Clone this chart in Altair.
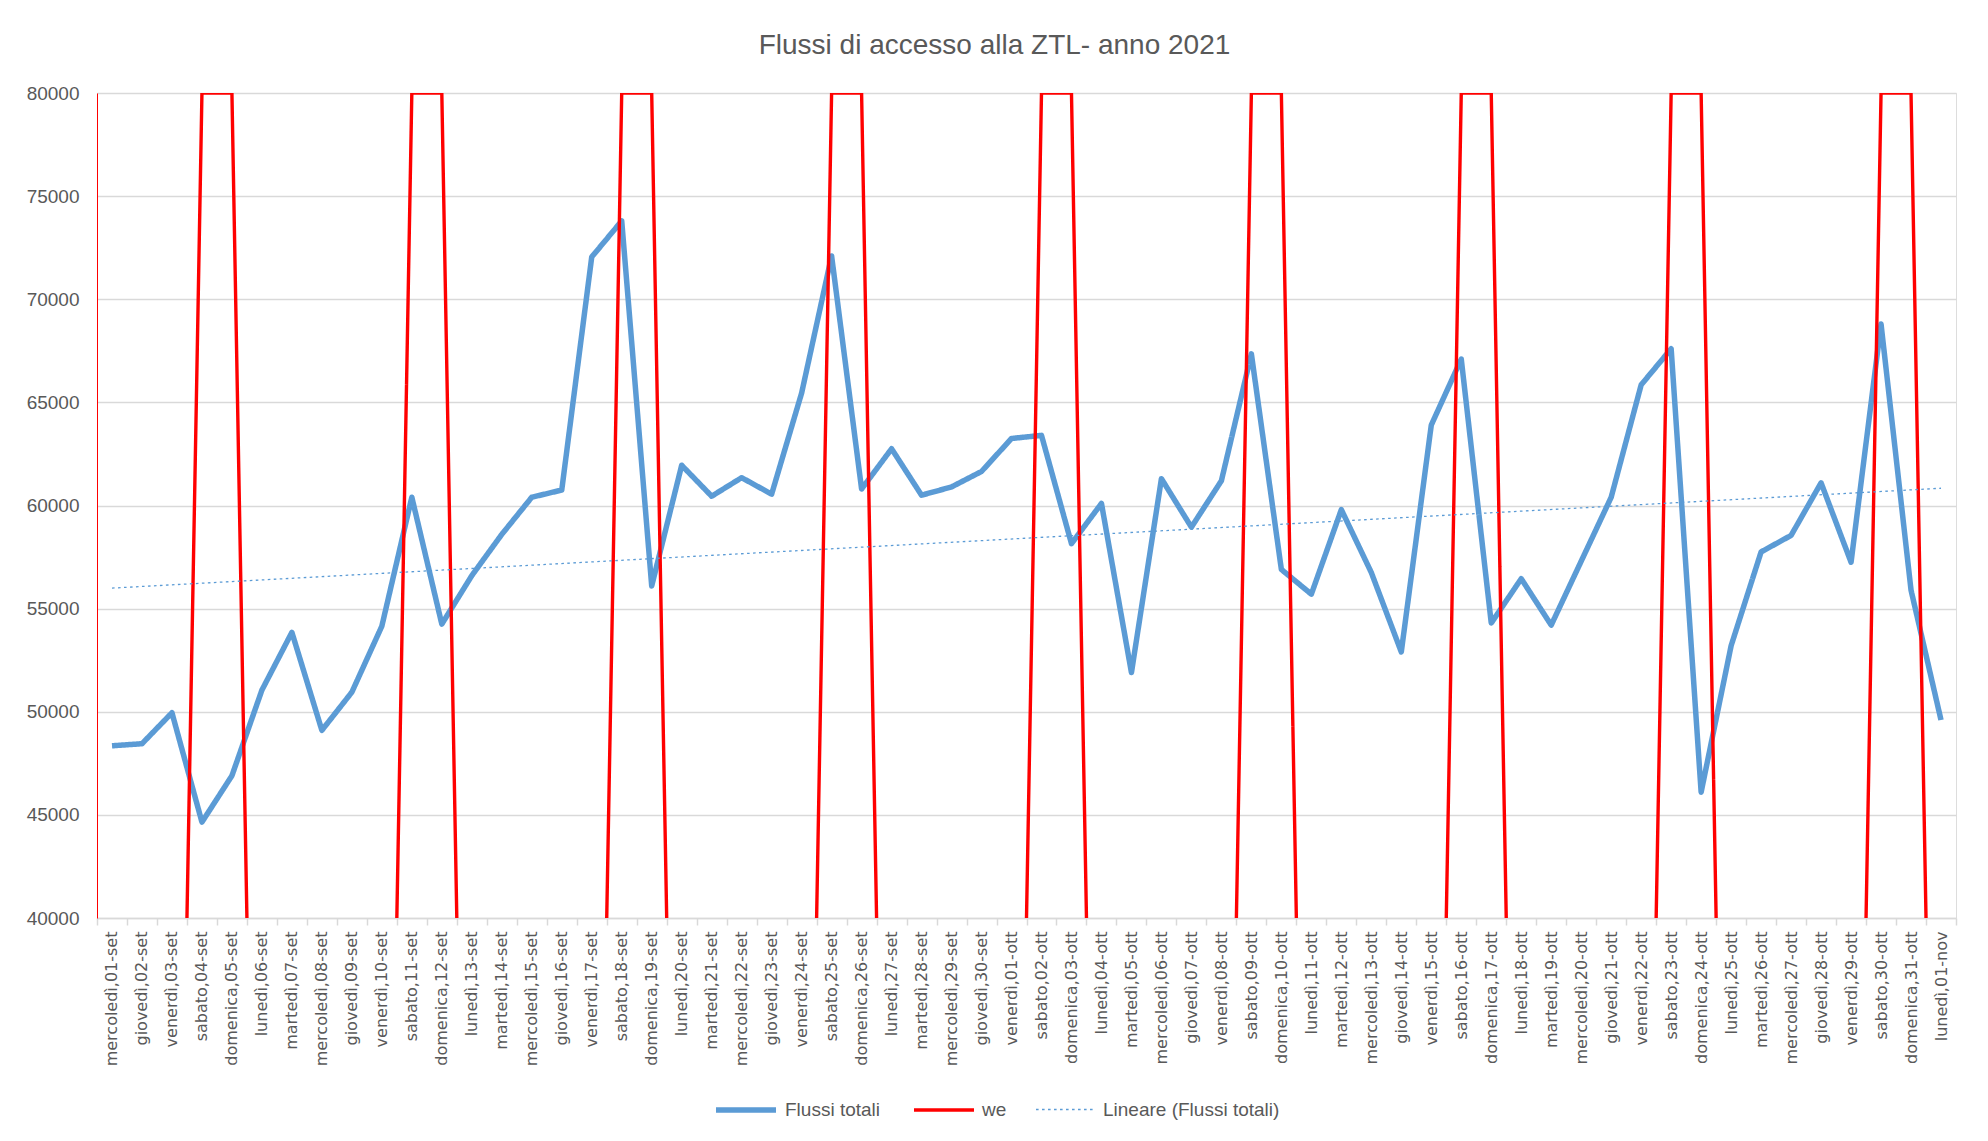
import altair as alt
import pandas as pd

etichette = [
    "mercoledì,01-set", "giovedì,02-set", "venerdì,03-set", "sabato,04-set", "domenica,05-set",
    "lunedì,06-set", "martedì,07-set", "mercoledì,08-set", "giovedì,09-set", "venerdì,10-set",
    "sabato,11-set", "domenica,12-set", "lunedì,13-set", "martedì,14-set", "mercoledì,15-set",
    "giovedì,16-set", "venerdì,17-set", "sabato,18-set", "domenica,19-set", "lunedì,20-set",
    "martedì,21-set", "mercoledì,22-set", "giovedì,23-set", "venerdì,24-set", "sabato,25-set",
    "domenica,26-set", "lunedì,27-set", "martedì,28-set", "mercoledì,29-set", "giovedì,30-set",
    "venerdì,01-ott", "sabato,02-ott", "domenica,03-ott", "lunedì,04-ott", "martedì,05-ott",
    "mercoledì,06-ott", "giovedì,07-ott", "venerdì,08-ott", "sabato,09-ott", "domenica,10-ott",
    "lunedì,11-ott", "martedì,12-ott", "mercoledì,13-ott", "giovedì,14-ott", "venerdì,15-ott",
    "sabato,16-ott", "domenica,17-ott", "lunedì,18-ott", "martedì,19-ott", "mercoledì,20-ott",
    "giovedì,21-ott", "venerdì,22-ott", "sabato,23-ott", "domenica,24-ott", "lunedì,25-ott",
    "martedì,26-ott", "mercoledì,27-ott", "giovedì,28-ott", "venerdì,29-ott", "sabato,30-ott",
    "domenica,31-ott", "lunedì,01-nov",
]

flussi = [
    48350, 48450, 49950, 44650, 46900, 51050, 53850, 49100, 50950, 54150,
    60400, 54250, 56600, 58600, 60400, 60750, 72050, 73800, 56100, 61950,
    60450, 61350, 60550, 65450, 72100, 60800, 62750, 60500, 60900, 61650,
    63250, 63400, 58150, 60100, 51900, 61300, 58950, 61200, 67350, 56900,
    55700, 59800, 56750, 52900, 63900, 67100, 54300, 56450, 54200, 57300,
    60400, 65850, 67600, 46100, 53200, 57750, 58550, 61100, 57250, 68800,
    55900, 49600,
]

we = [
    0, 0, 0, 80000, 80000, 0, 0, 0, 0, 0,
    80000, 80000, 0, 0, 0, 0, 0, 80000, 80000, 0,
    0, 0, 0, 0, 80000, 80000, 0, 0, 0, 0,
    0, 80000, 80000, 0, 0, 0, 0, 0, 80000, 80000,
    0, 0, 0, 0, 0, 80000, 80000, 0, 0, 0,
    0, 0, 80000, 80000, 0, 0, 0, 0, 0, 80000,
    80000, 0,
]

serie_nomi = ["Flussi totali", "we", "Lineare (Flussi totali)"]
serie_colori = ["#5B9BD5", "#FF0000", "#5B9BD5"]
serie_spessori = [5.5, 1.3, 3.2]
serie_tratti = [[1, 0], [1, 0], [2.6, 3.4]]

df = pd.DataFrame({"idx": list(range(len(etichette))), "giorno": etichette,
                   "flussi": flussi, "we": we})

GRAY = "#595959"
leg = alt.Legend(title=None, orient="none", legendX=616, legendY=984,
                 direction="horizontal", symbolType="stroke", symbolSize=3600,
                 labelFont="Liberation Sans", labelFontSize=19, labelColor=GRAY,
                 columnPadding=26, labelOffset=6, labelLimit=400)

color = alt.Color("serie:N", scale=alt.Scale(domain=serie_nomi, range=serie_colori), legend=leg)
sw = alt.StrokeWidth("serie:N", scale=alt.Scale(domain=serie_nomi, range=serie_spessori), legend=leg)
sd = alt.StrokeDash("serie:N", scale=alt.Scale(domain=serie_nomi, range=serie_tratti), legend=leg)

xscale = alt.Scale(type="band", paddingInner=0, paddingOuter=0)
xband = alt.X("giorno:N", sort=etichette, bandPosition=0.5, scale=xscale,
              axis=alt.Axis(title=None, labelAngle=270, labelAlign="right", labelBaseline="middle",
                            labelFont="DejaVu Sans", labelFontSize=16, labelColor=GRAY,
                            labelPadding=6, tickBand="extent", tickColor="#d9d9d9", tickSize=7,
                            tickWidth=1.5, domainColor="#d9d9d9", domainWidth=1.5,
                            labelOverlap=False))
xband_noaxis = alt.X("giorno:N", sort=etichette, bandPosition=0.5, scale=xscale, axis=None)
yax = alt.Axis(title=None, values=list(range(40000, 80001, 5000)), format="d",
               labelFont="Liberation Sans", labelFontSize=19, labelColor=GRAY, labelPadding=18,
               ticks=False, domainColor="#FF0000", domainWidth=1, gridColor="#d9d9d9", gridWidth=1.5)
yscale = alt.Scale(domain=[40000, 80000], nice=False, zero=False)

base = alt.Chart(df)

blu = base.transform_calculate(serie='"Flussi totali"').mark_line(clip=True, strokeJoin="round").encode(
    x=xband, y=alt.Y("flussi:Q", scale=yscale, axis=yax), color=color, strokeWidth=sw, strokeDash=sd)

rosso = base.transform_calculate(serie='"we"').mark_line(clip=True).encode(
    x=xband_noaxis, y=alt.Y("we:Q", scale=yscale, axis=yax), color=color, strokeWidth=sw, strokeDash=sd)

trend = base.transform_regression("idx", "flussi").transform_calculate(
    serie='"Lineare (Flussi totali)"').mark_line(clip=True).encode(
    x=alt.X("idx:Q", scale=alt.Scale(domain=[-0.5, len(etichette) - 0.5], nice=False, zero=False), axis=None),
    y=alt.Y("flussi:Q", scale=yscale, axis=yax), color=color, strokeWidth=sw, strokeDash=sd)

chart = alt.layer(blu, rosso, trend).resolve_scale(x="independent").properties(
    width=1859, height=825,
    title=alt.TitleParams("Flussi di accesso alla ZTL- anno 2021", font="Liberation Sans",
                          fontSize=28, fontWeight="normal", color=GRAY, anchor="middle",
                          offset=24, dx=-32),
    padding={"left": 18, "top": 24, "right": 10, "bottom": 5},
).configure_view(stroke=None).configure(background="white")

chart.save("out.html", embed_options={"renderer": "svg", "actions": False})
